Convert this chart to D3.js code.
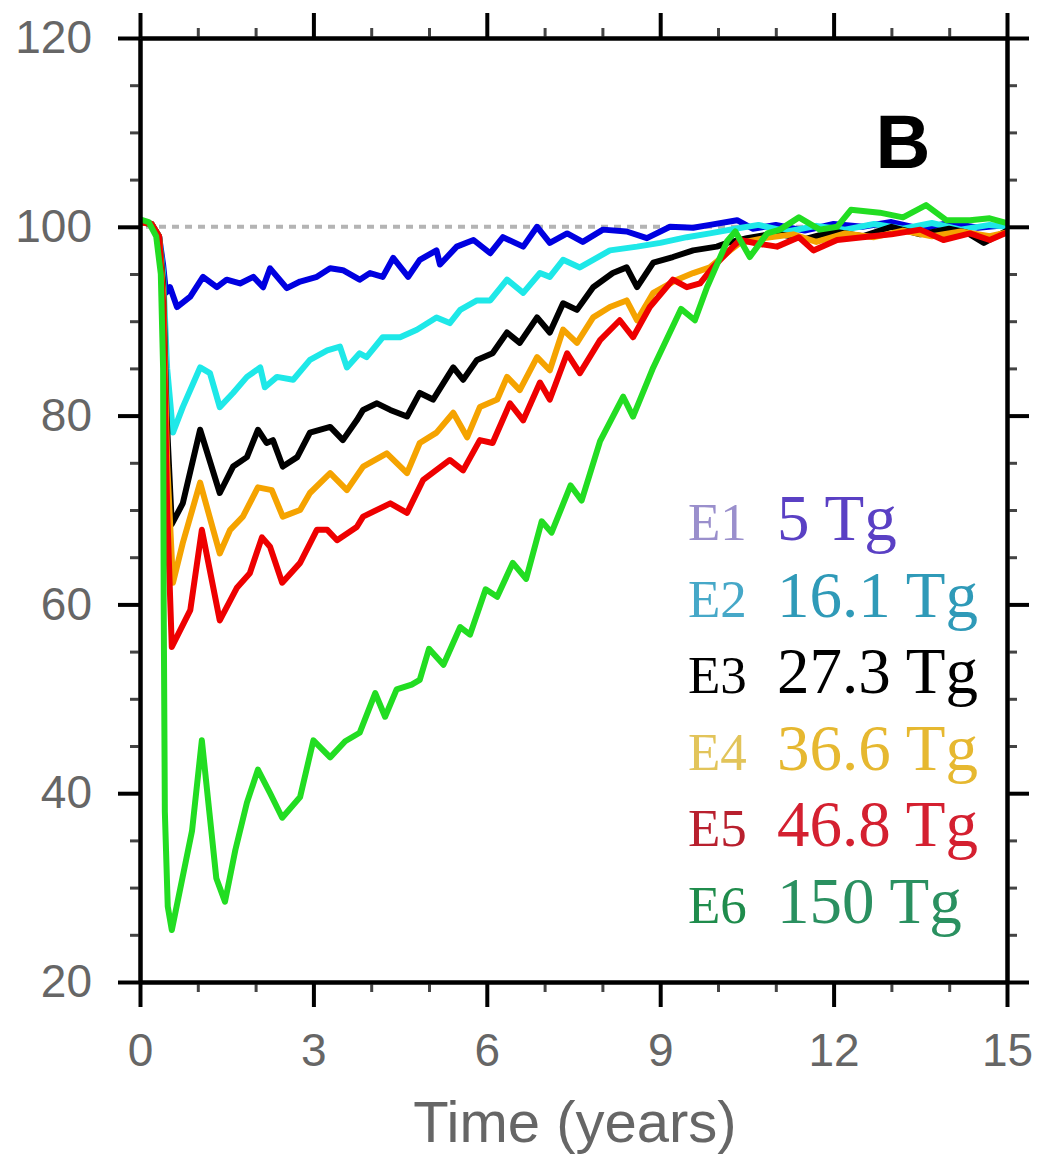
<!DOCTYPE html>
<html>
<head>
<meta charset="utf-8">
<script src="https://cdn.jsdelivr.net/npm/d3@7"></script>
<style>
  body { margin: 0; background: #fff; }
  svg { display: block; }
</style>
</head>
<body>
<svg id="canvas" width="1037" height="1160"></svg>
<script>
// values, as [year, percent] pairs
let e1 = [[0,100.5],[0.2,100.3],[0.33,99],[0.4,96],[0.45,93],[0.52,93.6],[0.64,91.5],[0.87,92.6],[1.09,94.7],[1.33,93.6],[1.5,94.4],[1.73,94],[1.96,94.7],[2.13,93.6],[2.25,95.6],[2.54,93.5],[2.77,94.2],[3.06,94.7],[3.29,95.6],[3.51,95.4],[3.8,94.4],[3.98,95.1],[4.2,94.7],[4.38,96.7],[4.64,94.7],[4.84,96.5],[5.13,97.5],[5.19,96],[5.48,97.9],[5.77,98.6],[6.06,97.2],[6.28,98.9],[6.63,97.9],[6.87,100],[7.09,98.3],[7.39,99.3],[7.66,98.4],[8.01,99.7],[8.42,99.5],[8.77,98.8],[9.17,100],[9.57,99.9],[9.86,100.2],[10.33,100.7],[10.6,99.8],[11,100.2],[11.5,99.6],[12,100.3],[12.5,100],[13,100.5],[13.5,99.8],[14,100.4],[14.5,99.9],[15,100.2]]
let e2 = [[0,100.5],[0.2,100.3],[0.33,99],[0.4,95],[0.47,85],[0.57,78.2],[0.74,80.9],[1.04,85.1],[1.21,84.5],[1.38,80.9],[1.61,82.4],[1.85,84.1],[2.08,85.1],[2.16,83],[2.37,84.1],[2.65,83.8],[2.94,85.9],[3.24,86.9],[3.46,87.3],[3.58,85.1],[3.8,86.6],[3.92,86.2],[4.2,88.3],[4.5,88.3],[4.79,89.1],[5.13,90.4],[5.36,89.8],[5.54,91.2],[5.83,92.2],[6.06,92.2],[6.35,94.4],[6.63,93],[6.92,95.1],[7.09,94.7],[7.32,96.5],[7.61,95.7],[8.13,97.5],[8.6,97.9],[9.0,98.3],[9.46,98.9],[9.86,99.3],[10.3,99.8],[10.7,100.2],[11.2,99.5],[11.7,100.1],[12.2,99.7],[12.7,100.3],[13.2,99.8],[13.7,100.4],[14.2,99.7],[14.7,100.2],[15,100]]
let e3 = [[0,100.5],[0.2,100.3],[0.33,99],[0.4,94],[0.46,80],[0.55,68.5],[0.74,70.7],[1.04,78.5],[1.38,71.8],[1.61,74.6],[1.85,75.6],[2.04,78.5],[2.19,77.1],[2.3,77.4],[2.47,74.6],[2.72,75.6],[2.94,78.2],[3.29,78.8],[3.51,77.4],[3.75,79.5],[3.86,80.6],[4.1,81.3],[4.33,80.6],[4.62,79.9],[4.84,82.4],[5.07,81.7],[5.42,85.1],[5.59,83.8],[5.83,85.9],[6.1,86.6],[6.35,88.8],[6.57,87.7],[6.87,90.4],[7.09,88.8],[7.32,91.9],[7.56,91.2],[7.84,93.6],[8.18,95.1],[8.42,95.7],[8.6,93.6],[8.88,96.2],[9.22,96.8],[9.57,97.5],[9.98,97.9],[10.16,98.3],[10.5,98.8],[11,99.3],[11.5,98.7],[12,99.5],[12.5,99],[13,100],[13.5,99.2],[14,99.8],[14.3,99.4],[14.6,98.3],[15,99.6]]
let e4 = [[0,100.5],[0.2,100.3],[0.33,99],[0.4,93],[0.47,75],[0.57,62.3],[0.74,66.5],[1.04,72.9],[1.38,65.4],[1.56,67.9],[1.78,69.3],[2.04,72.4],[2.28,72.1],[2.47,69.3],[2.77,70],[2.94,71.8],[3.29,73.9],[3.58,72.1],[3.86,74.6],[4.27,76],[4.62,73.9],[4.84,77.1],[5.13,78.2],[5.42,80.3],[5.66,77.7],[5.88,80.9],[6.18,81.7],[6.35,84.1],[6.57,82.7],[6.87,86.2],[7.09,84.8],[7.32,89.1],[7.56,87.7],[7.84,90.4],[8.13,91.5],[8.42,92.2],[8.6,90.1],[8.88,93],[9.29,94.4],[9.57,95.1],[9.86,95.7],[10.21,97.5],[10.38,98.3],[10.8,98.8],[11.3,99.2],[11.7,98.4],[12.2,99.3],[12.7,98.9],[13.2,99.6],[13.7,99],[14.2,99.5],[14.7,99],[15,99.4]]
let e5 = [[0,100.5],[0.2,100.3],[0.33,99],[0.4,92],[0.47,70],[0.55,55.5],[0.87,59.4],[1.07,67.9],[1.38,58.3],[1.68,61.8],[1.9,63.3],[2.11,67.1],[2.25,66.1],[2.46,62.3],[2.77,64.4],[3.06,67.9],[3.24,67.9],[3.41,66.8],[3.75,68.2],[3.86,69.3],[4.33,70.7],[4.62,69.7],[4.9,73.2],[5.36,75.3],[5.59,74.2],[5.88,77.4],[6.1,77.1],[6.4,81.3],[6.63,79.5],[6.92,83.5],[7.09,81.7],[7.39,86.6],[7.61,84.5],[7.96,88],[8.3,90.1],[8.53,88.3],[8.82,91.5],[9.22,94.4],[9.46,93.6],[9.69,94],[9.91,95.7],[10.26,97.9],[10.38,98.6],[10.7,98.2],[11.02,97.9],[11.4,98.9],[11.65,97.5],[12.06,98.6],[12.5,98.9],[13,99.2],[13.5,99.7],[13.9,98.6],[14.36,99.3],[14.7,98.6],[15,99.4]]
let e6 = [[0,100.8],[0.15,100.5],[0.28,99],[0.36,95],[0.4,85],[0.41,60],[0.43,38],[0.48,28],[0.55,25.5],[0.7,30],[0.9,36],[1.07,45.6],[1.2,38],[1.32,31],[1.47,28.5],[1.65,34],[1.85,39],[2.04,42.5],[2.25,40],[2.46,37.4],[2.77,39.6],[3.0,45.6],[3.29,43.8],[3.55,45.5],[3.8,46.4],[4.07,50.6],[4.24,48.1],[4.44,51],[4.7,51.5],[4.84,52],[5.0,55.3],[5.25,53.6],[5.54,57.6],[5.71,56.8],[5.98,61.6],[6.18,60.8],[6.45,64.4],[6.68,62.7],[6.95,68.8],[7.12,67.6],[7.45,72.6],[7.64,71],[7.96,77.3],[8.36,82],[8.53,79.9],[8.88,85.1],[9.36,91.3],[9.6,90.1],[9.81,93.6],[10.16,98.5],[10.3,99.5],[10.55,96.8],[10.85,99.3],[11.07,99.7],[11.4,101],[11.76,99.7],[12.06,100],[12.3,101.8],[12.8,101.5],[13.2,101],[13.6,102.3],[13.95,100.7],[14.36,100.7],[14.7,100.9],[15,100.4]]

let seriesNames = ['E1', 'E2', 'E3', 'E4', 'E5', 'E6']
let seriesLabels = ['5 Tg', '16.1 Tg', '27.3 Tg', '36.6 Tg', '46.8 Tg', '150 Tg']
let seriesData = [e1, e2, e3, e4, e5, e6]
let lineColors = ['#0000e0', '#1ee8e8', '#000000', '#f5a300', '#ee0000', '#22dd22']
let nameColors = ['#9a8fcc', '#46a8c8', '#000000', '#e2c45a', '#b8202e', '#1f8c4c']
let labelColors = ['#5a40c4', '#2f9ab8', '#000000', '#e6b830', '#d42030', '#2a9060']

let xTicks = [0, 3, 6, 9, 12, 15]
let yTicks = [20, 40, 60, 80, 100, 120]
let refLevel = 100

let canvas = d3.select('#canvas')

let x = d3.scaleLinear().domain([0, 15]).range([140, 1007])
let y = d3.scaleLinear().domain([20, 120]).range([982, 38])

let xMinor = d3.range(1, 15).filter(d => d % 3 !== 0)
let yMinor = d3.range(25, 120, 5).filter(d => d % 20 !== 0)

// dotted reference line at 100
canvas.append('line')
    .attr('x1', x(0) + 6).attr('x2', x(15))
    .attr('y1', y(refLevel)).attr('y2', y(refLevel))
    .attr('stroke', '#b4b4b4')
    .attr('stroke-width', 4)
    .attr('stroke-dasharray', '7,6')

// the lines
let line = d3.line()
    .x(d => x(d[0]))
    .y(d => y(d[1]))

canvas.selectAll('path.series')
    .data(seriesData)
    .enter()
    .append('path')
    .attr('class', 'series')
    .attr('d', line)
    .attr('fill', 'none')
    .attr('stroke', (d, i) => lineColors[i])
    .attr('stroke-width', 6)
    .attr('stroke-linejoin', 'round')

// axes
let styleAxis = (g, width, color) => {
    g.select('.domain').attr('stroke', '#000').attr('stroke-width', 4)
    g.selectAll('.tick line').attr('stroke', color).attr('stroke-width', width)
}

let drawAxis = (axis, transform, major) => {
    let g = canvas.append('g').attr('transform', transform).call(axis)
    styleAxis(g, major ? 4 : 3, major ? '#000' : '#444')
    return g
}

drawAxis(d3.axisBottom(x).tickValues(xMinor).tickSize(10).tickSizeOuter(0).tickFormat(''), `translate(0,${y(20)})`, false)
drawAxis(d3.axisTop(x).tickValues(xMinor).tickSize(10).tickSizeOuter(0).tickFormat(''), `translate(0,${y(120)})`, false)
drawAxis(d3.axisLeft(y).tickValues(yMinor).tickSize(10).tickSizeOuter(0).tickFormat(''), `translate(${x(0)},0)`, false)
drawAxis(d3.axisRight(y).tickValues(yMinor).tickSize(10).tickSizeOuter(0).tickFormat(''), `translate(${x(15)},0)`, false)

let bottom = drawAxis(d3.axisBottom(x).tickValues(xTicks).tickSize(25).tickSizeOuter(0).tickPadding(26), `translate(0,${y(20)})`, true)
drawAxis(d3.axisTop(x).tickValues(xTicks).tickSize(25).tickSizeOuter(0).tickFormat(''), `translate(0,${y(120)})`, true)
let left = drawAxis(d3.axisLeft(y).tickValues(yTicks).tickSize(22).tickSizeOuter(0).tickPadding(26), `translate(${x(0)},0)`, true)
drawAxis(d3.axisRight(y).tickValues(yTicks).tickSize(22).tickSizeOuter(0).tickFormat(''), `translate(${x(15)},0)`, true)

bottom.selectAll('text')
    .attr('font-family', 'Liberation Sans, Arial, sans-serif')
    .attr('font-size', 46)
    .attr('fill', '#666')
left.selectAll('text')
    .attr('font-family', 'Liberation Sans, Arial, sans-serif')
    .attr('font-size', 46)
    .attr('fill', '#666')

canvas.append('text')
    .attr('x', 575).attr('y', 1142)
    .attr('text-anchor', 'middle')
    .attr('font-family', 'Liberation Sans, Arial, sans-serif')
    .attr('font-size', 58)
    .attr('fill', '#666')
    .text('Time (years)')

canvas.append('text')
    .attr('x', 903).attr('y', 168)
    .attr('text-anchor', 'middle')
    .attr('font-family', 'Liberation Sans, Arial, sans-serif')
    .attr('font-weight', 'bold')
    .attr('font-size', 76)
    .attr('fill', '#000')
    .text('B')

// legend
let legend = canvas.append('g')
seriesNames.forEach((name, i) => {
    let base = 540 + i * 76.6
    legend.append('text')
        .attr('x', 688).attr('y', base)
        .attr('font-family', 'Liberation Serif, Times New Roman, serif')
        .attr('font-size', 53)
        .attr('fill', nameColors[i])
        .text(name)
    legend.append('text')
        .attr('x', 777).attr('y', base)
        .attr('font-family', 'Liberation Serif, Times New Roman, serif')
        .attr('font-size', 65)
        .attr('fill', labelColors[i])
        .text(seriesLabels[i])
})
</script>
</body>
</html>
